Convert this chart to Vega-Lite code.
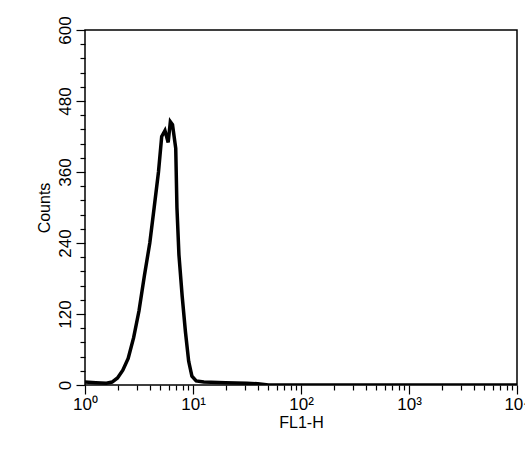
{
  "$schema": "https://vega.github.io/schema/vega-lite/v6.json",
  "width": 432,
  "height": 355,
  "autosize": {"type": "none"},
  "padding": {"left": 85, "top": 30, "right": 8, "bottom": 69},
  "background": "white",
  "config": {
    "font": "Liberation Sans",
    "view": {"stroke": "black", "strokeWidth": 1.5},
    "axis": {"grid": false, "domain": false, "tickColor": "black", "labelColor": "black", "titleColor": "black", "labelFontSize": 17, "titleFontSize": 16, "titleFontWeight": "normal", "tickWidth": 1.2}
  },
  "data": {"values": [
    {"fl": 1, "c": 5}, {"fl": 1.26, "c": 4}, {"fl": 1.58, "c": 3}, {"fl": 1.78, "c": 5},
    {"fl": 2.0, "c": 12}, {"fl": 2.24, "c": 25}, {"fl": 2.51, "c": 45}, {"fl": 2.82, "c": 80},
    {"fl": 3.16, "c": 125}, {"fl": 3.55, "c": 185}, {"fl": 3.98, "c": 240}, {"fl": 4.37, "c": 300},
    {"fl": 4.79, "c": 360}, {"fl": 5.13, "c": 420}, {"fl": 5.5, "c": 430}, {"fl": 5.89, "c": 410},
    {"fl": 6.17, "c": 445}, {"fl": 6.46, "c": 440}, {"fl": 6.92, "c": 400}, {"fl": 7.1, "c": 300},
    {"fl": 7.41, "c": 220}, {"fl": 7.94, "c": 150}, {"fl": 8.51, "c": 90}, {"fl": 9.12, "c": 40}, {"fl": 9.77, "c": 15},
    {"fl": 10.7, "c": 7}, {"fl": 12.6, "c": 5}, {"fl": 20, "c": 4}, {"fl": 31.6, "c": 3},
    {"fl": 39.8, "c": 2}, {"fl": 50, "c": 0}, {"fl": 10000, "c": 0}
  ]},
  "mark": {"type": "line", "interpolate": "linear", "color": "black", "strokeWidth": 3.5, "clip": true},
  "encoding": {
    "x": {
      "field": "fl", "type": "quantitative", "title": "FL1-H",
      "scale": {"type": "log", "domain": [1, 10000]},
      "axis": {
        "values": [1,2,3,4,5,6,7,8,9,10,20,30,40,50,60,70,80,90,100,200,300,400,500,600,700,800,900,1000,2000,3000,4000,5000,6000,7000,8000,9000,10000],
        "labelExpr": "datum.value == 1 ? '10⁰' : datum.value == 10 ? '10¹' : datum.value == 100 ? '10²' : datum.value == 1000 ? '10³' : datum.value == 10000 ? '10⁴' : ''",
        "tickSize": {"condition": {"test": "indexof([1,10,100,1000,10000], datum.value) >= 0", "value": 9}, "value": 5},
        "labelPadding": 2, "titlePadding": 2, "labelOverlap": false, "labelFlush": false
      }
    },
    "y": {
      "field": "c", "type": "quantitative", "title": "Counts",
      "scale": {"domain": [0, 600]},
      "axis": {
        "values": [0,24,48,72,96,120,144,168,192,216,240,264,288,312,336,360,384,408,432,456,480,504,528,552,576,600],
        "labelExpr": "datum.value % 120 == 0 ? datum.label : ''",
        "tickSize": {"condition": {"test": "datum.value % 120 == 0", "value": 9}, "value": 5},
        "labelAngle": -90, "labelAlign": "center", "labelBaseline": "bottom", "labelPadding": 2, "titlePadding": 4, "labelOverlap": false
      }
    }
  }
}
